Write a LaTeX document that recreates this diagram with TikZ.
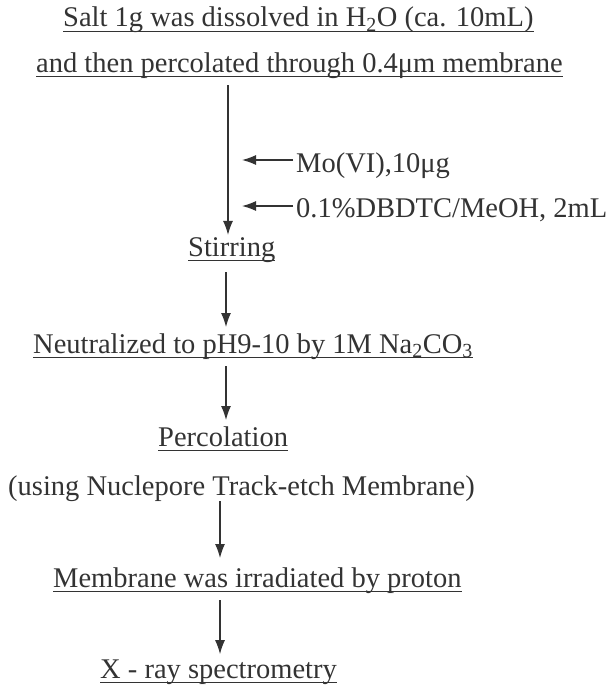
\documentclass[tikz,border=0pt]{standalone}
\usepackage{fontspec}
\setmainfont{Liberation Serif}
\usepackage{tikz}
\usetikzlibrary{arrows.meta}
\usepackage{xcolor}

\definecolor{ink}{gray}{0.2}

\tikzset{
  txt/.style={anchor=base west, inner sep=0pt, text=ink, font=\fontsize{28.5}{34}\selectfont},
  uline/.style={draw=ink, line width=1.4pt},
  flow/.style={draw=ink, line width=1.2pt, -{Latex[length=14pt,width=10pt]}, shorten <=7pt, shorten >=4pt}
}

\begin{document}
\begin{tikzpicture}[x=1pt, y=-1pt]
\useasboundingbox (0,0) rectangle (612,685);
% steps
\node[txt] (salt) at (63,27) {Salt 1g was dissolved in H\textsubscript{2}O (ca. 10mL)};
\node[txt] (filt) at (36,72) {and then percolated through 0.4μm membrane};
\node[txt] (mo) at (296,172) {Mo(VI),10μg};
\node[txt] (dbdtc) at (296,217) {0.1\%DBDTC/MeOH, 2mL};
\node[txt] (stir) at (188,256) {Stirring};
\node[txt] (neut) at (33,353) {Neutralized to pH9-10 by 1M Na\textsubscript{2}CO\textsubscript{3}};
\node[txt] (percol) at (158,446) {Percolation};
\node[txt] (using) at (8,495) {(using Nuclepore Track-etch Membrane)};
\node[txt] (irrad) at (53,587) {Membrane was irradiated by proton};
\node[txt] (xray) at (100,678) {X - ray spectrometry};
% underlines
\foreach \n in {salt,filt,stir,neut,percol,irrad,xray}
  \draw[uline] ([yshift=-4.5pt]\n.base west) -- ([yshift=-4.5pt]\n.base east);
% arrow columns
\coordinate (c1) at (228,0);
\coordinate (c2) at (226,0);
\coordinate (c3) at (220,0);
% arrows
\draw[flow, shorten >=2pt] (filt.south -| c1) -- (stir.north -| c1);
\draw[flow, shorten <=3pt, shorten >=0pt] ([yshift=12pt]mo.base west) -- ([yshift=12pt]mo.base west -| 242,0);
\draw[flow, shorten <=3pt, shorten >=0pt] ([yshift=11pt]dbdtc.base west) -- ([yshift=11pt]dbdtc.base west -| 242,0);
\draw[flow, shorten <=10pt, shorten >=6pt] (stir.south -| c2) -- (neut.north -| c2);
\draw[flow, shorten >=6pt] (neut.south -| c2) -- (percol.north -| c2);
\draw[flow, shorten <=0pt, shorten >=9pt] (using.south -| c3) -- (irrad.north -| c3);
\draw[flow, shorten >=5pt] (irrad.south -| c3) -- (xray.north -| c3);
\end{tikzpicture}
\end{document}
